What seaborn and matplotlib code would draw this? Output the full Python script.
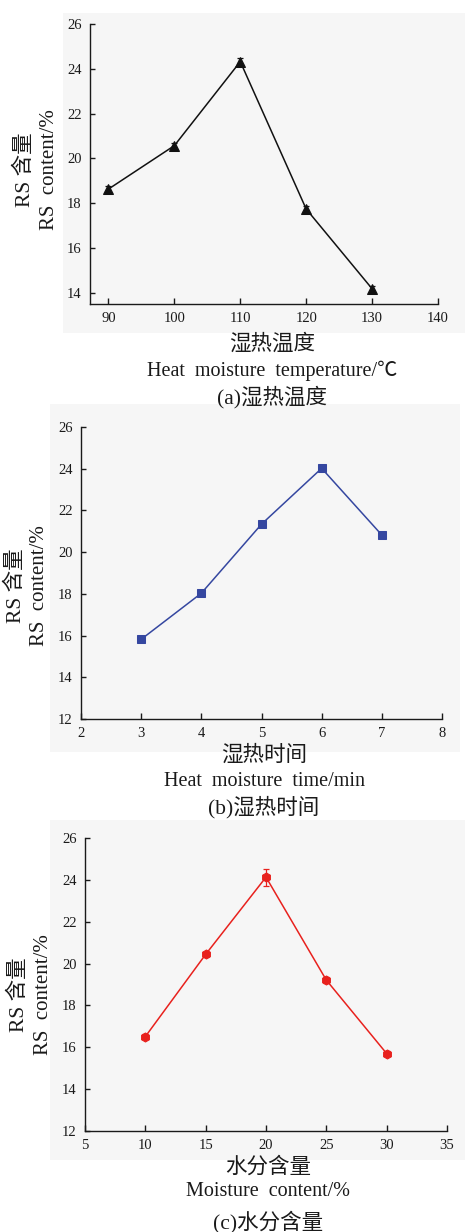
import matplotlib
matplotlib.use("Agg")
import matplotlib.pyplot as plt
from matplotlib.patches import Rectangle
import seaborn as sns
import pandas as pd

# --- data ---------------------------------------------------------------
temp_c = [90, 100, 110, 120, 130]
rs_temp = [18.63, 20.57, 24.32, 17.74, 14.18]
err_temp = [0.15, 0.13, 0.15, 0.13, 0.13]

time_min = [3, 4, 5, 6, 7]
rs_time = [15.82, 18.03, 21.34, 24.02, 20.82]
err_time = [0.10, 0.08, 0.15, 0.06, 0.10]

moisture_pct = [10, 15, 20, 25, 30]
rs_moist = [16.51, 20.44, 24.13, 19.21, 15.70]
err_moist = [0.13, 0.12, 0.40, 0.14, 0.10]

sns.set_theme(style="ticks")
plt.rcParams["font.family"] = ["Liberation Serif", "Noto Sans CJK SC", "DejaVu Sans"]
plt.rcParams["mathtext.default"] = "regular"

W, H = 465, 1232
fig = plt.figure(figsize=(W / 100, H / 100), dpi=100)
fig.patch.set_facecolor("white")

SERIF = ["Liberation Serif", "Noto Sans CJK SC", "DejaVu Sans"]
CJK = ["Noto Sans CJK SC", "Liberation Serif"]
INK = "#1a1a1a"


def px_rect(x0, y0, x1, y1):
    """Figure-fraction rectangle from pixel box (top-left origin)."""
    return [x0 / W, 1 - y1 / H, (x1 - x0) / W, (y1 - y0) / H]


def panel(box, bg, x, y, err, color, marker, msize, xlim, ylim, xticks, yticks,
          cn_label, en_label, caption, label_x, label_ys, ylab_x, ylab_y):
    # faint panel background, kept beneath the axes
    bx = px_rect(*bg)
    fig.patches.append(Rectangle((bx[0], bx[1]), bx[2], bx[3],
                                 transform=fig.transFigure, facecolor="#f6f6f6",
                                 edgecolor="none", zorder=-10))
    ax = fig.add_axes(px_rect(*box))
    ax.set_zorder(5)
    ax.set_facecolor("none")
    df = pd.DataFrame({"x": x, "y": y})
    sns.lineplot(data=df, x="x", y="y", ax=ax, color=color, lw=1.1,
                 marker=marker, markersize=msize, markeredgecolor=color,
                 markerfacecolor=color, zorder=3)
    ax.errorbar(x, y, yerr=err, fmt="none", ecolor=color, elinewidth=0.9,
                capsize=2.5, capthick=0.9, zorder=2)
    ax.set_xlim(*xlim)
    ax.set_ylim(*ylim)
    ax.set_xticks(xticks)
    ax.set_yticks(yticks)
    ax.set_xlabel("")
    ax.set_ylabel("")
    for s in ("top", "right"):
        ax.spines[s].set_visible(False)
    for s in ("left", "bottom"):
        ax.spines[s].set_linewidth(1.0)
        ax.spines[s].set_color(INK)
    ax.tick_params(axis="x", direction="in", length=4.5, width=1.0,
                   labelsize=10.5, pad=6, colors=INK)
    ax.tick_params(axis="y", direction="in", length=3.5, width=1.0,
                   labelsize=10.5, pad=6, colors=INK)
    for lab in ax.get_xticklabels() + ax.get_yticklabels():
        lab.set_family("Liberation Serif")
        lab.set_color(INK)

    fig.text(ylab_x[0] / W, 1 - ylab_y / H, "RS 含量", rotation=90,
             ha="center", va="center", fontsize=15.5, family=SERIF, color=INK)
    fig.text(ylab_x[1] / W, 1 - ylab_y / H, "RS  content/%", rotation=90,
             ha="center", va="center", fontsize=15, family=SERIF, color=INK)
    fig.text(label_x / W, 1 - label_ys[0] / H, cn_label, ha="center", va="center",
             fontsize=15.5, family=CJK, color=INK)
    fig.text(label_x / W, 1 - label_ys[1] / H, en_label, ha="center", va="center",
             fontsize=14.5, family=SERIF, color=INK)
    fig.text(label_x / W, 1 - label_ys[2] / H, caption, ha="center", va="center",
             fontsize=15.5, family=SERIF, color=INK)
    return ax


panel(box=(90, 24, 438, 304), bg=(63, 13, 465, 333),
      x=temp_c, y=rs_temp, err=err_temp, color="#111111", marker="^", msize=6.5,
      xlim=(87.2, 140), ylim=(13.5, 26),
      xticks=[90, 100, 110, 120, 130, 140], yticks=[14, 16, 18, 20, 22, 24, 26],
      cn_label="湿热温度", en_label="Heat  moisture  temperature/℃",
      caption="(a)湿热温度", label_x=272, label_ys=(344, 371, 397),
      ylab_x=(25, 49), ylab_y=170)

panel(box=(81, 427, 442, 719), bg=(50, 404, 460, 752),
      x=time_min, y=rs_time, err=err_time, color="#3547a0", marker="s", msize=5.5,
      xlim=(2, 8), ylim=(12, 26),
      xticks=[2, 3, 4, 5, 6, 7, 8], yticks=[12, 14, 16, 18, 20, 22, 24, 26],
      cn_label="湿热时间", en_label="Heat  moisture  time/min",
      caption="(b)湿热时间", label_x=264, label_ys=(755, 781, 807),
      ylab_x=(16, 40), ylab_y=586)

panel(box=(85, 838, 447, 1131), bg=(50, 820, 465, 1160),
      x=moisture_pct, y=rs_moist, err=err_moist, color="#e8211d", marker="h", msize=6.5,
      xlim=(5, 35), ylim=(12, 26),
      xticks=[5, 10, 15, 20, 25, 30, 35], yticks=[12, 14, 16, 18, 20, 22, 24, 26],
      cn_label="水分含量", en_label="Moisture  content/%",
      caption="(c)水分含量", label_x=268, label_ys=(1167, 1192, 1222),
      ylab_x=(19, 44), ylab_y=995)

fig.savefig("out.png", dpi=100, facecolor="white")
